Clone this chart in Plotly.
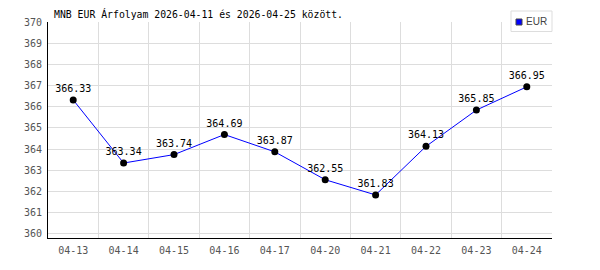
import plotly.graph_objects as go

dates = ["04-13", "04-14", "04-15", "04-16", "04-17", "04-20", "04-21", "04-22", "04-23", "04-24"]
rates = [366.33, 363.34, 363.74, 364.69, 363.87, 362.55, 361.83, 364.13, 365.85, 366.95]
labels = [f"{v:.2f}" for v in rates]
title_text = "MNB EUR Árfolyam 2026-04-11 és 2026-04-25 között."
series_name = "EUR"

mono = "DejaVu Sans Mono"
xs = list(range(len(dates)))

fig = go.Figure()
fig.add_trace(go.Scatter(
    x=xs, y=rates, mode="lines+markers+text", text=labels,
    textposition="top center", textfont=dict(family=mono, size=10, color="black"),
    line=dict(color="#0000ff", width=1),
    marker=dict(color="black", size=7),
    showlegend=False, cliponaxis=False,
))

fig.update_layout(
    width=600, height=270,
    margin=dict(l=48, r=48, t=22, b=32),
    plot_bgcolor="white", paper_bgcolor="white",
    xaxis=dict(
        range=[-0.5, len(dates) - 0.5], tickmode="array", tickvals=xs, ticktext=dates,
        showgrid=False, zeroline=False, showline=True, linecolor="black", linewidth=1,
        tickfont=dict(family=mono, size=10, color="#555555"),
        ticks="outside", ticklen=3, tickcolor="white",
        minor=dict(tickmode="array", tickvals=[i - 0.5 for i in range(len(dates) + 1)],
                   showgrid=True, gridcolor="#dddddd", gridwidth=1, ticks=""),
    ),
    yaxis=dict(
        range=[359.79, 370.02], tickmode="linear", tick0=360, dtick=1,
        showgrid=True, gridcolor="#dddddd", gridwidth=1, zeroline=False,
        showline=True, linecolor="black", linewidth=1,
        tickfont=dict(family=mono, size=10, color="#555555"),
        ticks="outside", ticklen=3, tickcolor="white",
    ),
    annotations=[
        dict(text=title_text, xref="paper", yref="paper", x=0, y=1.037,
             xanchor="left", yanchor="middle", xshift=4, showarrow=False,
             font=dict(family=mono, size=9.8, color="black")),
        dict(text=series_name, xref="paper", yref="paper", x=(524 - 48) / 504, y=(238 - 21.5) / 216,
             xanchor="left", yanchor="middle", showarrow=False,
             font=dict(family="Liberation Sans", size=10, color="#444444")),
    ],
    shapes=[
        dict(type="rect", xref="paper", yref="paper",
             x0=(511 - 48) / 504, x1=(552 - 48) / 504, y0=(238 - 31.5) / 216, y1=(238 - 11) / 216,
             line=dict(color="#dddddd", width=1), fillcolor="white"),
        dict(type="rect", xref="paper", yref="paper",
             x0=(516 - 48) / 504, x1=(522 - 48) / 504, y0=(238 - 25) / 216, y1=(238 - 19) / 216,
             line=dict(color="#444444", width=1), fillcolor="#0000ff"),
    ],
)

fig.write_html("out.html")
